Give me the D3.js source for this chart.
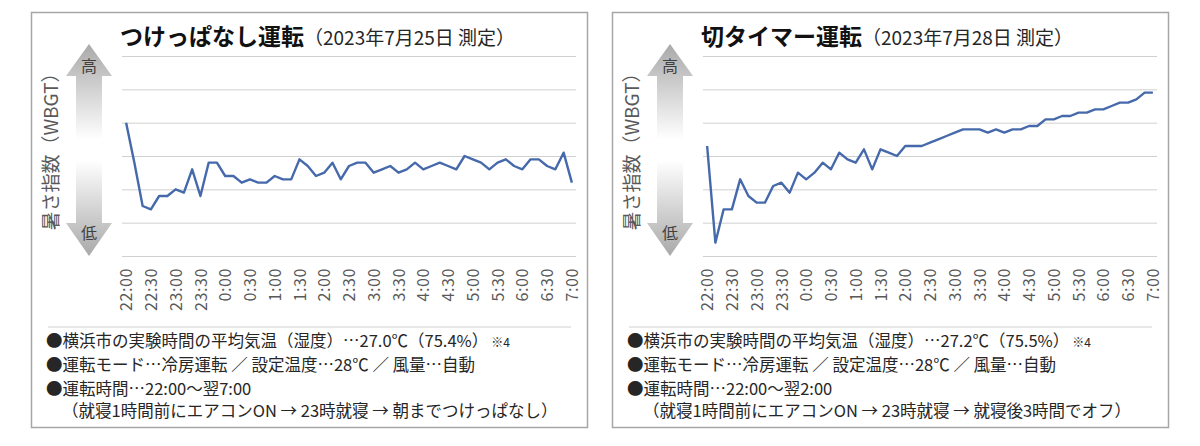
<!DOCTYPE html>
<html>
<head>
<meta charset="utf-8">
<script src="https://cdn.jsdelivr.net/npm/d3@7"></script>
<style>
  body { margin: 0; background: #fff; }
  svg { display: block; }
  text { font-family: "Noto Sans CJK JP", "Noto Sans", sans-serif; }
</style>
</head>
<body>
<div id="chart"></div>
<script>
// 10分ごとの計測時刻（22:00〜7:00）
var times = [
  "22:00","22:10","22:20","22:30","22:40","22:50","23:00","23:10","23:20","23:30","23:40","23:50",
  "0:00","0:10","0:20","0:30","0:40","0:50","1:00","1:10","1:20","1:30","1:40","1:50",
  "2:00","2:10","2:20","2:30","2:40","2:50","3:00","3:10","3:20","3:30","3:40","3:50",
  "4:00","4:10","4:20","4:30","4:40","4:50","5:00","5:10","5:20","5:30","5:40","5:50",
  "6:00","6:10","6:20","6:30","6:40","6:50","7:00"
];
var tickLabels = ["22:00","22:30","23:00","23:30","0:00","0:30","1:00","1:30","2:00","2:30",
  "3:00","3:30","4:00","4:30","5:00","5:30","6:00","6:30","7:00"];

// 暑さ指数（目盛なし・相対値、グリッド1本=1）
var tsukeppanashi = [
  4.0, 2.8, 1.5, 1.4, 1.8, 1.8, 2.0, 1.9, 2.6, 1.8, 2.8, 2.8,
  2.4, 2.4, 2.2, 2.3, 2.2, 2.2, 2.4, 2.3, 2.3, 2.9, 2.7, 2.4,
  2.5, 2.8, 2.3, 2.7, 2.8, 2.8, 2.5, 2.6, 2.7, 2.5, 2.6, 2.8,
  2.6, 2.7, 2.8, 2.7, 2.6, 3.0, 2.9, 2.8, 2.6, 2.8, 2.9, 2.7,
  2.6, 2.9, 2.9, 2.7, 2.6, 3.1, 2.2
];
var kiriTimer = [
  3.3, 0.4, 1.4, 1.4, 2.3, 1.8, 1.6, 1.6, 2.1, 2.2, 1.9, 2.5,
  2.3, 2.5, 2.8, 2.6, 3.1, 2.9, 2.8, 3.2, 2.6, 3.2, 3.1, 3.0,
  3.3, 3.3, 3.3, 3.4, 3.5, 3.6, 3.7, 3.8, 3.8, 3.8, 3.7, 3.8,
  3.7, 3.8, 3.8, 3.9, 3.9, 4.1, 4.1, 4.2, 4.2, 4.3, 4.3, 4.4,
  4.4, 4.5, 4.6, 4.6, 4.7, 4.9, 4.9
];

var panels = [
  {
    title: "つけっぱなし運転", date: "（2023年7月25日 測定）", values: tsukeppanashi,
    notes: [
      ["●横浜市の実験時間の平均気温（湿度）…27.0℃（75.4%）", "※4"],
      ["●運転モード…冷房運転 ／ 設定温度…28℃ ／ 風量…自動"],
      ["●運転時間…22:00～翌7:00"],
      ["（就寝1時間前にエアコンON → 23時就寝 → 朝までつけっぱなし）"]
    ]
  },
  {
    title: "切タイマー運転", date: "（2023年7月28日 測定）", values: kiriTimer,
    notes: [
      ["●横浜市の実験時間の平均気温（湿度）…27.2℃（75.5%）", "※4"],
      ["●運転モード…冷房運転 ／ 設定温度…28℃ ／ 風量…自動"],
      ["●運転時間…22:00～翌2:00"],
      ["（就寝1時間前にエアコンON → 23時就寝 → 就寝後3時間でオフ）"]
    ]
  }
];

var svg = d3.select("#chart").append("svg")
    .attr("width", 1200)
    .attr("height", 446);

var defs = svg.append("defs");
var grad = defs.append("linearGradient")
    .attr("id", "arrowGrad")
    .attr("x1", 0).attr("y1", 0).attr("x2", 0).attr("y2", 1);
grad.append("stop").attr("offset", "0%").attr("stop-color", "#a9a9a9");
grad.append("stop").attr("offset", "45%").attr("stop-color", "#ffffff");
grad.append("stop").attr("offset", "55%").attr("stop-color", "#ffffff");
grad.append("stop").attr("offset", "100%").attr("stop-color", "#a9a9a9");

var panelW = 556, panelH = 415;

panels.forEach(function(p, k) {
  var g = svg.append("g").attr("transform", "translate(" + (31 + k * 581) + ",12)");
  drawPanel(g, p);
});

function drawPanel(g, p) {
  g.append("rect")
      .attr("x", 0.5).attr("y", 0.5)
      .attr("width", panelW).attr("height", panelH)
      .attr("fill", "#fff")
      .attr("stroke", "#a6a6a6")
      .attr("stroke-width", 1.5);

  var x = d3.scalePoint()
      .domain(times)
      .range([91, 545])
      .padding(0.5);
  var y = d3.scaleLinear()
      .domain([0, 6])
      .range([244, 44]);

  // グリッド線
  g.append("g")
      .attr("transform", "translate(91,0)")
      .call(d3.axisLeft(y).ticks(6).tickSize(-454).tickFormat(""))
      .call(function(a) {
        a.select(".domain").remove();
        a.selectAll("line").attr("stroke", "#d0d0d0").attr("stroke-width", 1);
      });

  // 横軸ラベル
  var xa = g.append("g")
      .attr("transform", "translate(0,244)")
      .call(d3.axisBottom(x).tickValues(tickLabels).tickSize(0).tickPadding(0));
  xa.select(".domain").remove();
  xa.selectAll("text")
      .attr("transform", "rotate(-90)")
      .attr("text-anchor", "end")
      .attr("dy", "0.35em")
      .attr("x", -12)
      .attr("y", 0)
      .attr("fill", "#595959")
      .style("font-size", "16px")
      .style("letter-spacing", "0.6px")
      .style("font-family", '"Noto Sans CJK JP", sans-serif');

  // 折れ線
  var line = d3.line()
      .x(function(d, i) { return x(times[i]); })
      .y(function(d) { return y(d); });
  g.append("path")
      .datum(p.values)
      .attr("d", line)
      .attr("fill", "none")
      .attr("stroke", "#4569aa")
      .attr("stroke-width", 2.4)
      .attr("stroke-linejoin", "round");

  // 高低の矢印
  var ax = 58;
  var arrow = [
    [ax, 32], [ax + 23, 64], [ax + 13, 64], [ax + 13, 211], [ax + 23, 211],
    [ax, 244], [ax - 23, 211], [ax - 13, 211], [ax - 13, 64], [ax - 23, 64]
  ];
  g.append("path")
      .attr("d", d3.line()(arrow) + "Z")
      .attr("fill", "url(#arrowGrad)");
  g.append("text")
      .attr("x", ax).attr("y", 60)
      .attr("text-anchor", "middle")
      .attr("fill", "#404040")
      .style("font-size", "16px")
      .text("高");
  g.append("text")
      .attr("x", ax).attr("y", 227)
      .attr("text-anchor", "middle")
      .attr("fill", "#404040")
      .style("font-size", "16px")
      .text("低");

  g.append("text")
      .attr("transform", "translate(20,135) rotate(-90)")
      .attr("text-anchor", "middle")
      .attr("dy", "0.35em")
      .attr("fill", "#595959")
      .style("font-size", "19px")
      .text("暑さ指数（WBGT）");

  // タイトル
  var t = g.append("text")
      .attr("x", 89).attr("y", 33)
      .attr("fill", "#111");
  t.append("tspan")
      .style("font-size", "23px")
      .style("font-weight", "bold")
      .text(p.title);
  t.append("tspan")
      .style("font-size", "19px")
      .attr("fill", "#262626")
      .text(p.date);

  // 注記
  g.append("line")
      .attr("x1", 17).attr("x2", 540)
      .attr("y1", 315).attr("y2", 315)
      .attr("stroke", "#d0d0d0");

  var noteY = [335, 359, 383, 405];
  p.notes.forEach(function(n, i) {
    var nt = g.append("text")
        .attr("x", i === 3 ? 31 : 15)
        .attr("y", noteY[i])
        .attr("fill", "#262626")
        .style("font-size", "16.5px");
    nt.append("tspan").text(n[0]);
    if (n[1]) {
      nt.append("tspan").attr("dx", 3).style("font-size", "12px").text(n[1]);
    }
  });
}
</script>
</body>
</html>
